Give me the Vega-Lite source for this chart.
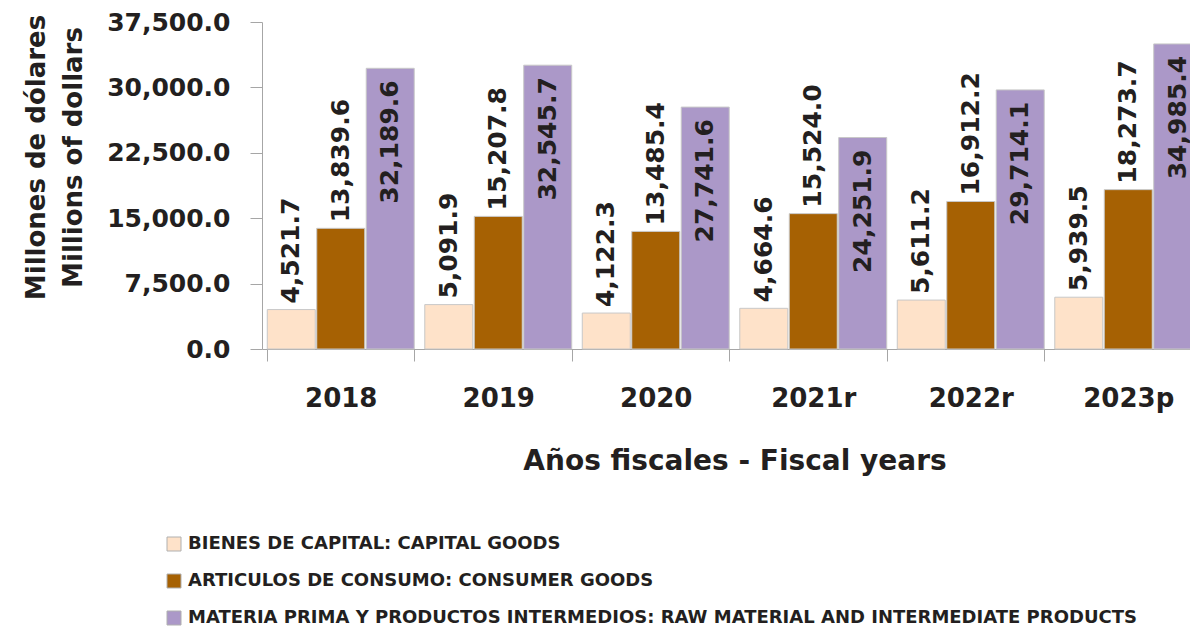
{
  "$schema": "https://vega.github.io/schema/vega-lite/v6.json",
  "autosize": "none",
  "padding": {"left": 262, "top": 22, "right": 0, "bottom": 280},
  "width": 945,
  "height": 327,
  "background": "white",
  "config": {
    "font": "DejaVu Sans",
    "view": {"stroke": null}
  },
  "data": {
    "values": [
      {"year": "2018", "cat": "BIENES DE CAPITAL: CAPITAL GOODS", "k": 1, "value": 4521.7},
      {"year": "2018", "cat": "ARTICULOS DE CONSUMO: CONSUMER GOODS", "k": 2, "value": 13839.6},
      {"year": "2018", "cat": "MATERIA PRIMA Y PRODUCTOS INTERMEDIOS: RAW MATERIAL AND INTERMEDIATE PRODUCTS", "k": 3, "value": 32189.6},
      {"year": "2019", "cat": "BIENES DE CAPITAL: CAPITAL GOODS", "k": 1, "value": 5091.9},
      {"year": "2019", "cat": "ARTICULOS DE CONSUMO: CONSUMER GOODS", "k": 2, "value": 15207.8},
      {"year": "2019", "cat": "MATERIA PRIMA Y PRODUCTOS INTERMEDIOS: RAW MATERIAL AND INTERMEDIATE PRODUCTS", "k": 3, "value": 32545.7},
      {"year": "2020", "cat": "BIENES DE CAPITAL: CAPITAL GOODS", "k": 1, "value": 4122.3},
      {"year": "2020", "cat": "ARTICULOS DE CONSUMO: CONSUMER GOODS", "k": 2, "value": 13485.4},
      {"year": "2020", "cat": "MATERIA PRIMA Y PRODUCTOS INTERMEDIOS: RAW MATERIAL AND INTERMEDIATE PRODUCTS", "k": 3, "value": 27741.6},
      {"year": "2021r", "cat": "BIENES DE CAPITAL: CAPITAL GOODS", "k": 1, "value": 4664.6},
      {"year": "2021r", "cat": "ARTICULOS DE CONSUMO: CONSUMER GOODS", "k": 2, "value": 15524.0},
      {"year": "2021r", "cat": "MATERIA PRIMA Y PRODUCTOS INTERMEDIOS: RAW MATERIAL AND INTERMEDIATE PRODUCTS", "k": 3, "value": 24251.9},
      {"year": "2022r", "cat": "BIENES DE CAPITAL: CAPITAL GOODS", "k": 1, "value": 5611.2},
      {"year": "2022r", "cat": "ARTICULOS DE CONSUMO: CONSUMER GOODS", "k": 2, "value": 16912.2},
      {"year": "2022r", "cat": "MATERIA PRIMA Y PRODUCTOS INTERMEDIOS: RAW MATERIAL AND INTERMEDIATE PRODUCTS", "k": 3, "value": 29714.1},
      {"year": "2023p", "cat": "BIENES DE CAPITAL: CAPITAL GOODS", "k": 1, "value": 5939.5},
      {"year": "2023p", "cat": "ARTICULOS DE CONSUMO: CONSUMER GOODS", "k": 2, "value": 18273.7},
      {"year": "2023p", "cat": "MATERIA PRIMA Y PRODUCTOS INTERMEDIOS: RAW MATERIAL AND INTERMEDIATE PRODUCTS", "k": 3, "value": 34985.4}
    ]
  },
  "encoding": {
    "x": {
      "field": "year", "type": "nominal", "sort": null,
      "scale": {"paddingInner": 0.067, "paddingOuter": 0.0335},
      "axis": {
        "title": "Años fiscales - Fiscal years",
        "titleFontSize": 28, "titleFontWeight": "bold", "titleColor": "#231f20", "titlePadding": 36,
        "labelAngle": 0, "labelFontSize": 26, "labelFontWeight": "bold", "labelColor": "#231f20", "labelPadding": 24,
        "tickBand": "extent", "tickSize": 12, "tickColor": "#a6a6a6", "domainColor": "#a6a6a6"
      }
    },
    "xOffset": {"field": "cat", "type": "nominal", "sort": null, "scale": {"paddingInner": 0.03}},
    "y": {
      "field": "value", "type": "quantitative",
      "scale": {"domain": [0, 37500], "nice": false},
      "axis": {
        "values": [0, 7500, 15000, 22500, 30000, 37500], "format": ",.1f",
        "grid": false, "tickSize": 12, "tickColor": "#a6a6a6", "domainColor": "#a6a6a6",
        "labelFontSize": 25, "labelFontWeight": "bold", "labelColor": "#231f20", "labelPadding": 20,
        "title": ["Millones de dólares", "Millions of dollars"],
        "titleFontSize": 26, "titleFontWeight": "bold", "titleColor": "#231f20", "titleLineHeight": 37, "titlePadding": 20,
        "titleY": 135
      }
    }
  },
  "layer": [
    {
      "mark": {"type": "bar", "stroke": "#c8c8c8", "strokeWidth": 1},
      "encoding": {
        "color": {
          "field": "cat", "type": "nominal", "sort": null,
          "scale": {"range": ["#fee2c9", "#a66103", "#ab98c8"]},
          "legend": {
            "title": null, "orient": "none", "legendX": -97, "legendY": 513, "direction": "vertical",
            "symbolType": "square", "symbolSize": 196, "symbolStrokeColor": "#b0b0b0", "symbolStrokeWidth": 1,
            "labelFontSize": 18, "labelFontWeight": "bold", "labelColor": "#231f20", "rowPadding": 19, "labelOffset": 5,
            "labelLimit": 1200
          }
        }
      }
    },
    {
      "transform": [{"filter": "datum.k < 3"}],
      "mark": {"type": "text", "angle": 270, "align": "left", "baseline": "middle", "dx": 6, "fontSize": 25, "fontWeight": "bold", "color": "#231f20"},
      "encoding": {"text": {"field": "value", "type": "quantitative", "format": ",.1f"}}
    },
    {
      "transform": [{"filter": "datum.k == 3"}],
      "mark": {"type": "text", "angle": 270, "align": "right", "baseline": "middle", "dx": -12, "fontSize": 25, "fontWeight": "bold", "color": "#231f20"},
      "encoding": {"text": {"field": "value", "type": "quantitative", "format": ",.1f"}}
    }
  ]
}
